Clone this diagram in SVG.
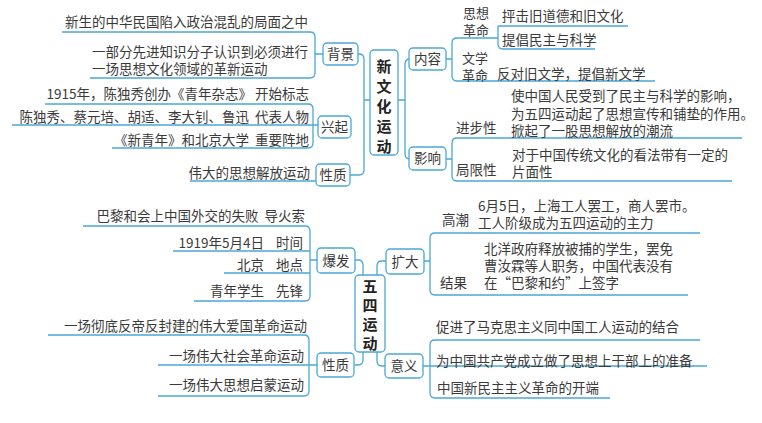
<svg xmlns="http://www.w3.org/2000/svg" width="762" height="423" viewBox="0 0 762 423">
<style>
text{font-family:"Noto Sans CJK SC","Liberation Serif",serif;font-size:13.5px;fill:#3a3a3a;white-space:pre}
.r{text-anchor:end}
.c{text-anchor:middle}
.s{font-size:13px}
.b{font-size:15px;font-weight:bold;fill:#222}
.box{fill:#fff;stroke:#4aa8d8;stroke-width:1.3}
.ln{fill:none;stroke:#4aa8d8;stroke-width:1.3}
</style>
<rect width="762" height="423" fill="#fff"/>
<g id="connectors">
<path class="ln" d="M370 100H364M358 54H359Q364 54 364 59V170Q364 175 359 175H350"/>
<path class="ln" d="M62 32H310Q315 32 315 37V73Q315 78 310 78H90M315 54H323"/>
<path class="ln" d="M45 104H308Q313 104 313 109V143Q313 148 308 148H112M12 125H318"/>
<path class="ln" d="M190 181H316"/>
<path class="ln" d="M398 100H405M409 59H410Q405 59 405 64V154Q405 159 410 159H409"/>
<path class="ln" d="M446 59H452M457 38Q452 38 452 43V76Q452 81 457 81H655M457 38H498M498 26H628M498 26V44Q498 49 503 49H595"/>
<path class="ln" d="M446 159H452M457 138Q452 138 452 143V176Q452 181 457 181H732M457 138H742"/>
<path class="ln" d="M355 260H358Q363 260 363 265V275M355 365H358Q363 365 363 360V352"/>
<path class="ln" d="M83 226H305Q310 226 310 231V296Q310 301 305 301H194M173 251H310M224 273H310M310 260H317"/>
<path class="ln" d="M48 335H304Q309 335 309 340V391Q309 396 304 396H158M158 365H317"/>
<path class="ln" d="M386 261H382Q377 261 377 266V275M385 366H382Q377 366 377 361V352"/>
<path class="ln" d="M424 261H430M435 233Q430 233 430 238V290Q430 295 435 295H688M435 233H700"/>
<path class="ln" d="M423 366H707M435 340Q430 340 430 345V393Q430 398 435 398H610M435 340H700"/>
</g>
<g id="n-xwh"><rect class="box" x="370" y="50" width="28" height="105" rx="4"/>
<text class="c b" x="384" y="72">新</text><text class="c b" x="384" y="92">文</text><text class="c b" x="384" y="112">化</text><text class="c b" x="384" y="132">运</text><text class="c b" x="384" y="152">动</text></g>
<g id="n-bj"><rect class="box" x="323" y="43" width="35" height="22" rx="4"/><text class="c" x="340.5" y="59">背景</text></g>
<g id="n-xq"><rect class="box" x="318" y="116" width="33" height="22" rx="4"/><text class="c" x="334.5" y="132">兴起</text></g>
<g id="n-xz1"><rect class="box" x="316" y="164" width="34" height="22" rx="4"/><text class="c" x="333" y="180">性质</text></g>
<g id="n-nr"><rect class="box" x="409" y="48" width="37" height="22" rx="4"/><text class="c" x="427.5" y="64">内容</text></g>
<g id="n-yx"><rect class="box" x="409" y="147" width="37" height="23" rx="4"/><text class="c" x="427.5" y="163">影响</text></g>
<g id="t-top">
<text class="r" x="308" y="27">新生的中华民国陷入政治混乱的局面之中</text>
<text class="r" x="308" y="57">一部分先进知识分子认识到必须进行</text>
<text x="92" y="74">一场思想文化领域的革新运动</text>
<text class="r" x="309" y="99">1915年，陈独秀创办《青年杂志》 开始标志</text>
<text class="r" x="309" y="122">陈独秀、蔡元培、胡适、李大钊、鲁迅  代表人物</text>
<text class="r" x="309" y="145">《新青年》和北京大学  重要阵地</text>
<text class="r" x="310" y="178">伟大的思想解放运动</text>
<text class="s" x="463" y="18">思想</text><text class="s" x="463" y="35">革命</text>
<text x="502" y="21">抨击旧道德和旧文化</text>
<text x="502" y="45">提倡民主与科学</text>
<text class="s" x="462" y="63">文学</text><text class="s" x="462" y="80">革命</text>
<text x="497" y="79">反对旧文学，提倡新文学</text>
<text x="511" y="101">使中国人民受到了民主与科学的影响，</text>
<text x="511" y="119">为五四运动起了思想宣传和铺垫的作用。</text>
<text x="511" y="136">掀起了一股思想解放的潮流</text>
<text x="456" y="133">进步性</text>
<text x="512" y="160">对于中国传统文化的看法带有一定的</text>
<text x="512" y="177">片面性</text>
<text x="456" y="175">局限性</text>
</g>
<g id="n-ws"><rect class="box" x="355" y="275" width="30" height="77" rx="4"/>
<text class="c b" x="370" y="292">五</text><text class="c b" x="370" y="311">四</text><text class="c b" x="370" y="330">运</text><text class="c b" x="370" y="349">动</text></g>
<g id="n-bf"><rect class="box" x="317" y="248" width="38" height="25" rx="4"/><text class="c" x="336" y="266">爆发</text></g>
<g id="n-xz2"><rect class="box" x="317" y="353" width="37" height="24" rx="4"/><text class="c" x="335.5" y="370">性质</text></g>
<g id="n-kd"><rect class="box" x="386" y="249" width="38" height="25" rx="4"/><text class="c" x="405" y="267">扩大</text></g>
<g id="n-yy"><rect class="box" x="385" y="354" width="38" height="24" rx="4"/><text class="c" x="404" y="371">意义</text></g>
<g id="t-bottom">
<text class="r" x="305" y="221">巴黎和会上中国外交的失败  导火索</text>
<text class="r" x="303" y="248">1919年5月4日    时间</text>
<text class="r" x="303" y="270">北京    地点</text>
<text class="r" x="303" y="296">青年学生    先锋</text>
<text class="r" x="307" y="331">一场彻底反帝反封建的伟大爱国革命运动</text>
<text class="r" x="304" y="361">一场伟大社会革命运动</text>
<text class="r" x="304" y="390">一场伟大思想启蒙运动</text>
<text x="478" y="211">6月5日，上海工人罢工，商人罢市。</text>
<text x="442" y="225">高潮</text>
<text x="478" y="228">工人阶级成为五四运动的主力</text>
<text x="484" y="254">北洋政府释放被捕的学生，罢免</text>
<text x="484" y="271">曹汝霖等人职务，中国代表没有</text>
<text x="484" y="288">在“巴黎和约”上签字</text>
<text x="440" y="288">结果</text>
<text x="436" y="332">促进了马克思主义同中国工人运动的结合</text>
<text x="436" y="366">为中国共产党成立做了思想上干部上的准备</text>
<text x="437" y="393">中国新民主主义革命的开端</text>
</g>
</svg>
